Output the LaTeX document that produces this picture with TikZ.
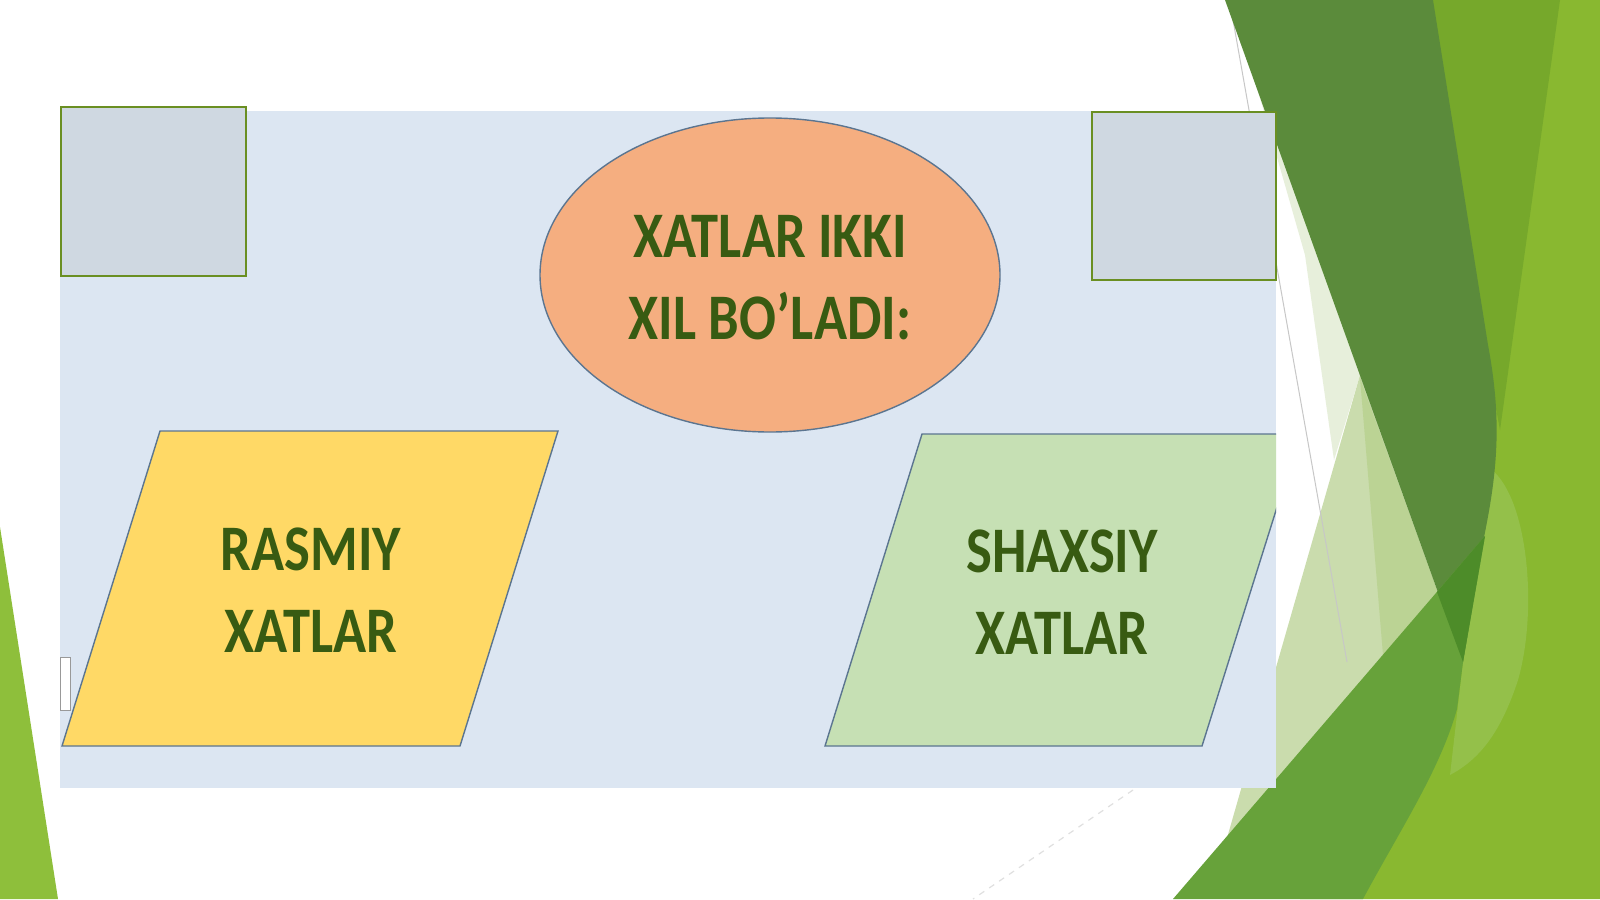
\documentclass[tikz,border=0pt]{standalone}
\usepackage{fontspec}
\setmainfont{Carlito}
\usetikzlibrary{shapes.geometric}
\definecolor{panelblue}{HTML}{DCE6F2}
\definecolor{sqfill}{HTML}{CFD8E1}
\definecolor{sqborder}{HTML}{6A8F22}
\definecolor{ellfill}{HTML}{F5AE80}
\definecolor{shapeborder}{HTML}{5B7590}
\definecolor{yellowfill}{HTML}{FFD966}
\definecolor{greenfill}{HTML}{C6E0B4}
\definecolor{textgreen}{HTML}{385B12}
\definecolor{fDark}{HTML}{5B8B3B}
\definecolor{fDarker}{HTML}{4D8C29}
\definecolor{fMid}{HTML}{76A82B}
\definecolor{fLight}{HTML}{89B830}
\definecolor{fPatch}{HTML}{94C04A}
\definecolor{fBand}{HTML}{67A23A}
\definecolor{fPale}{HTML}{CADCAD}
\definecolor{fPale2}{HTML}{BBD394}
\definecolor{fVPale}{HTML}{E7EFDB}
\definecolor{leftgreen}{HTML}{8EBF3B}
\tikzset{
  sqbox/.style={fill=sqfill, draw=sqborder, line width=1pt},
  shapeline/.style={draw=shapeborder, line width=0.7pt},
  bigtext/.style={font=\fontsize{32.5}{41}\selectfont\bfseries, text=textgreen, align=center, xscale=0.84, transform shape, inner sep=0pt},
}
\begin{document}
\begin{tikzpicture}[x=0.5pt,y=-0.5pt]
\useasboundingbox (0,0) rectangle (1600,899);
\fill[white] (0,0) rectangle (1600,899);
% left green strip
\fill[leftgreen] (0,527) -- (58,899) -- (0,899) -- cycle;
% right facets
\fill[fLight] (1420,0) -- (1600,0) -- (1600,899) -- (1300,899) -- (1460,600) -- cycle;
\fill[fMid] (1420,0) -- (1560,0) -- (1500,430) -- cycle;
\fill[fPatch] (1492,470) .. controls (1528,500) and (1538,610) .. (1518,680) .. controls (1500,735) and (1478,760) .. (1450,775) -- (1463,662) -- (1483,542) -- cycle;
\fill[fVPale] (1252,70) -- (1360,375) -- (1334,460) -- (1305,255) -- cycle;
\fill[fPale] (1360,375) -- (1440,598) -- (1225,845) -- cycle;
\fill[fPale2] (1360,378) -- (1440,598) -- (1383,655) -- cycle;
\draw[color=black!22, line width=0.5pt] (1233,20) -- (1347,662);
\fill[fDark] (1225,0) -- (1433,0) -- (1488,345) .. controls (1502,420) and (1498,470) .. (1483,542) -- (1463,662) -- cycle;
\fill[fBand] (1173,899) -- (1485,536) -- (1463,662) -- (1457,709) .. controls (1440,770) and (1400,830) .. (1363,899) -- cycle;
\fill[fDarker] (1437,592) -- (1485,536) -- (1463,662) -- cycle;
\draw[color=black!12, line width=0.6pt, dashed] (1133,790) -- (973,899);
% panel
\fill[panelblue] (60,111) rectangle (1276,788);
\filldraw[fill=white, draw=black!40, line width=0.5pt] (60,657) rectangle (70,710);
% squares
\path[sqbox] (61,107) rectangle (246,276);
\path[sqbox] (1092,112) rectangle (1276,280);
% ellipse
\node[ellipse, fill=ellfill, shapeline, minimum width=230pt, minimum height=157pt, inner sep=0pt] (head) at (770,275) {};
\node[bigtext] (headtext) at (770,278) {XATLAR IKKI\\XIL BO’LADI:};
% yellow parallelogram
\path[fill=yellowfill, shapeline] (160,431) -- (558,431) -- (460,746) -- (62,746) -- cycle;
\node[bigtext] (rasmiy) at (311,590) {RASMIY\\XATLAR};
% green parallelogram (clipped by panel)
\begin{scope}
\clip (60,111) rectangle (1276,788);
\path[fill=greenfill, shapeline] (922,434) -- (1300,434) -- (1202,746) -- (825,746) -- cycle;
\end{scope}
\node[bigtext] (shaxsiy) at (1062,592) {SHAXSIY\\XATLAR};
\end{tikzpicture}
\end{document}
